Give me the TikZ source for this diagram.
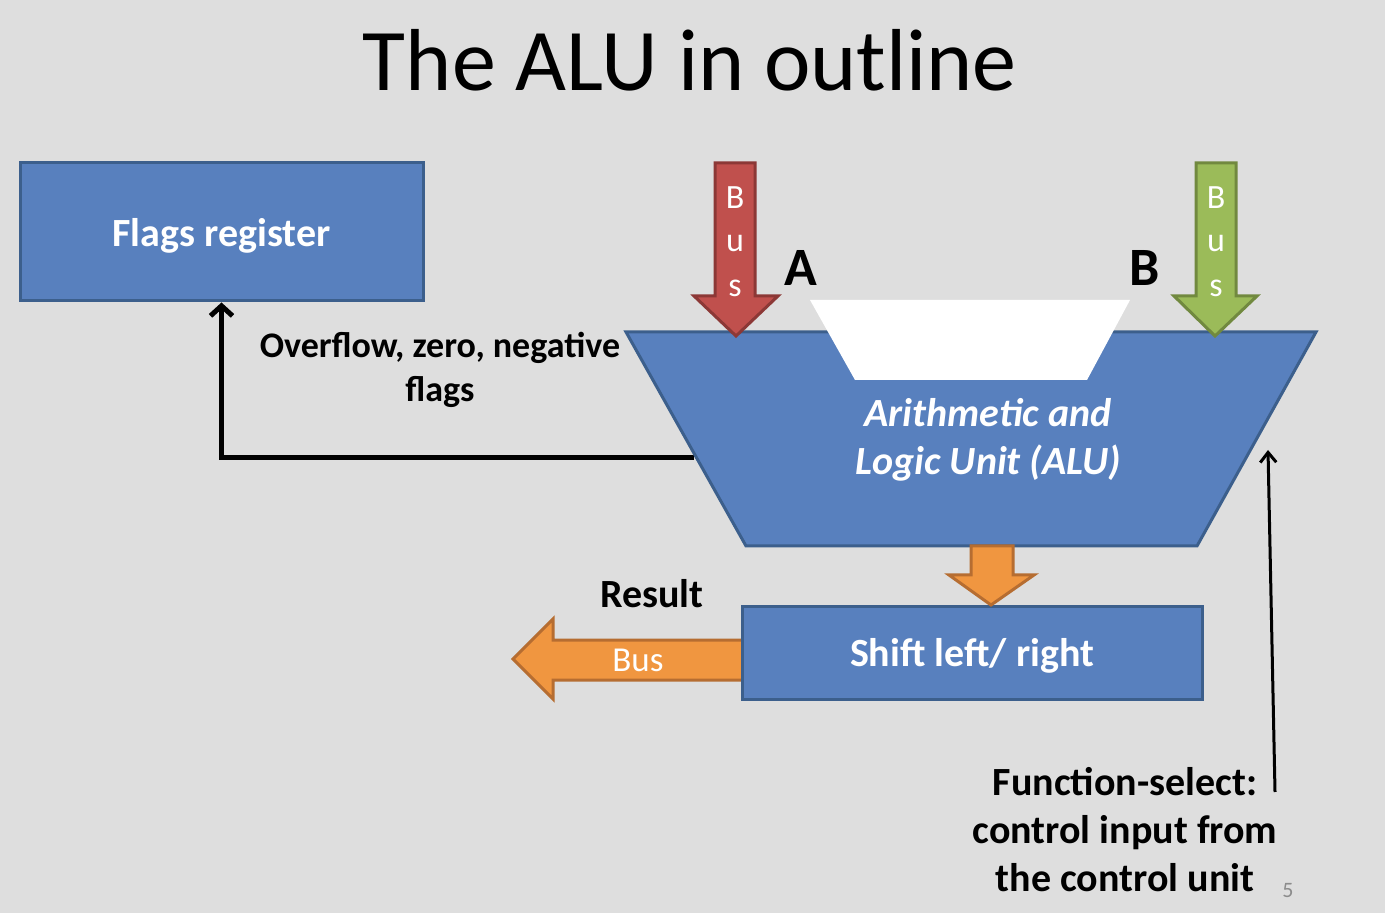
\documentclass[tikz,border=0pt]{standalone}
\usepackage{fontspec}
\setmainfont{Carlito}
\usetikzlibrary{arrows.meta}

\definecolor{slidebg}{RGB}{222,222,222}
\definecolor{blockblue}{RGB}{88,128,190}
\definecolor{blueedge}{RGB}{60,95,140}
\definecolor{busred}{RGB}{192,80,77}
\definecolor{busrededge}{RGB}{140,56,54}
\definecolor{busgreen}{RGB}{155,187,89}
\definecolor{busgreenedge}{RGB}{113,137,63}
\definecolor{resorange}{RGB}{240,150,64}
\definecolor{resorangeedge}{RGB}{182,109,49}

\tikzset{
  blockbox/.style={draw=blueedge, fill=blockblue, line width=1.5pt, text=white, text depth=0pt,
    font=\bfseries\fontsize{20}{24}\selectfont},
  blockarrow/.style={line width=1.5pt, line join=miter},
  arrowletter/.style={text=white, inner sep=0pt, anchor=base, font=\fontsize{17}{20}\selectfont},
  caption/.style={inner sep=0pt, align=center, font=\bfseries\fontsize{20}{24}\selectfont},
  feedline/.style={line width=2.5pt, -{Straight Barb[length=5pt,width=11pt]}},
  ctrlline/.style={line width=1.5pt, -{Straight Barb[length=5pt,width=8pt]}}
}

\begin{document}
\begin{tikzpicture}[x=0.5pt,y=-0.5pt]
  \useasboundingbox (0,0) rectangle (1385,913);
  \fill[slidebg] (0,0) rectangle (1385,913);

  \node[inner sep=0pt, font=\fontsize{44}{50}\selectfont] (title) at (690,60) {The ALU in outline};

  % boxes
  \node[blockbox, minimum width=201.5pt, minimum height=69pt] (flags) at (221.5,232) {Flags register};

  % flags feedback, under the ALU
  \coordinate (aluL) at (694,458);
  \draw[feedline] (aluL) -| (flags.south);

  % the ALU itself
  \draw[blockarrow, draw=blueedge, fill=blockblue] (626,332) -- (1316,332) -- (1197,546) -- (746,546) -- cycle;
  \fill[white] (810,300) -- (1130,300) -- (1087,380) -- (855,380) -- cycle;
  \node[inner sep=0pt, align=center, text=white, font=\bfseries\itshape\fontsize{20}{24}\selectfont] (alu) at (988,440)
    {Arithmetic and\\Logic Unit (ALU)};

  % input buses
  \draw[blockarrow, draw=busrededge, fill=busred] (715,163) -- (755,163) -- (755,296) -- (778,296)
    -- (736,336) -- (694,296) -- (715,296) -- cycle;
  \draw[blockarrow, draw=busgreenedge, fill=busgreen] (1196,163) -- (1236,163) -- (1236,296) -- (1257,296)
    -- (1215,336) -- (1174,296) -- (1196,296) -- cycle;
  \foreach \letter/\ypos in {B/209, u/252, s/297}
  {  \node[arrowletter] (busA\letter) at (735,\ypos) {\letter};
     \node[arrowletter] (busB\letter) at (1216,\ypos) {\letter};
  }
  \node[inner sep=0pt, font=\bfseries\fontsize{27}{30}\selectfont] (labA) at (801,268) {A};
  \node[inner sep=0pt, font=\bfseries\fontsize{27}{30}\selectfont] (labB) at (1145,268) {B};

  % result path
  \draw[blockarrow, draw=resorangeedge, fill=resorange] (742,640) -- (553,640) -- (553,619) -- (513,659)
    -- (553,699) -- (553,680) -- (742,680);
  \node[blockbox, minimum width=230pt, minimum height=46.5pt] (shift) at (972,652.5) {Shift left/ right};
  \draw[blockarrow, draw=resorangeedge, fill=resorange] (971,546) -- (1013,546) -- (1013,575) -- (1034,575)
    -- (991,605) -- (949,575) -- (971,575) -- cycle;
  \node[inner sep=0pt, text=white, font=\fontsize{17.5}{20}\selectfont] (resbus) at (638,660) {Bus};
  \node[caption] (result) at (652,594) {Result};

  \node[caption, font=\bfseries\fontsize{18}{22}\selectfont] (flagtext) at (440,370) {Overflow, zero, negative\\flags};

  % function select
  \coordinate (selfoot) at (1275,792);
  \coordinate (seltip) at (1268,450);
  \draw[ctrlline] (selfoot) -- (seltip);
  \node[caption] (fsel) at (1125,830)
    {Function-select:\\control input from\\the control unit};

  \node[inner sep=0pt, text=black!45, font=\fontsize{11}{12}\selectfont] (pagenum) at (1288,891) {5};
\end{tikzpicture}
\end{document}
